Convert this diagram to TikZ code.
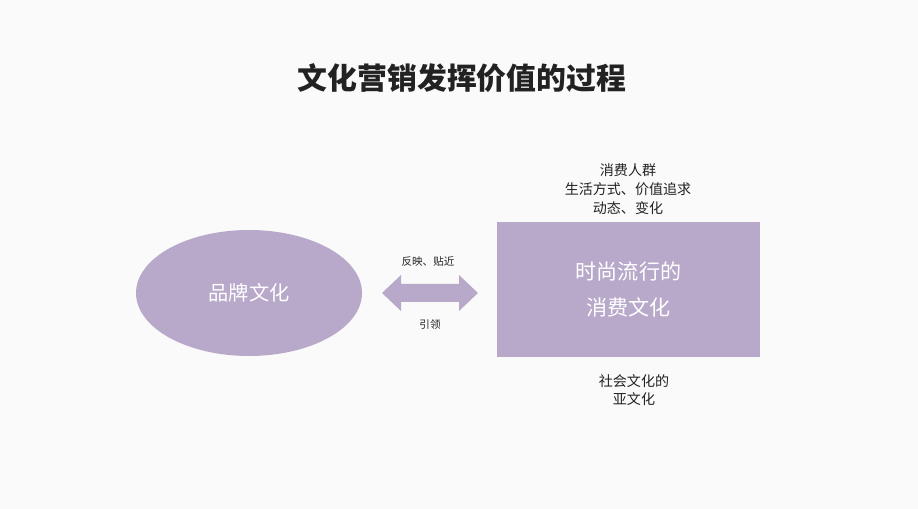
\documentclass[tikz,border=0pt]{standalone}
\usepackage{fontspec}
\usetikzlibrary{shapes.geometric}
\setmainfont{Noto Sans CJK SC}
\definecolor{fillp}{HTML}{B8A9CA}
\definecolor{bg}{HTML}{FAFAFA}
\definecolor{txt}{HTML}{222222}
\begin{document}
\begin{tikzpicture}[x=0.02cm,y=-0.02cm,
  lab/.style={text=txt,align=center,inner sep=0pt},
  shapefill/.style={fill=fillp,draw=none}]
\fill[bg] (0,0) rectangle (918,509);
\useasboundingbox (0,0) rectangle (918,509);
\node[lab,font=\bfseries\fontsize{17}{20}\selectfont] (title) at (462,78) {文化营销发挥价值的过程};
\node[shapefill,ellipse,minimum width=226*0.02cm,minimum height=126*0.02cm] (brand) at (249,293) {};
\node[text=white,font=\fontsize{11.5}{14}\selectfont] at (brand) {品牌文化};
\node[shapefill,minimum width=263*0.02cm,minimum height=135*0.02cm,inner sep=0pt] (cons) at (628.5,289.5) {};
\node[text=white,align=center,font=\fontsize{12}{20}\selectfont] at (cons) {时尚流行的\\消费文化};
\fill[fillp] (382,293) -- (401,275) -- (401,284) -- (459,284) -- (459,275) -- (478,293) -- (459,311) -- (459,302) -- (401,302) -- (401,311) -- cycle;
\coordinate (arr) at (430,293);
\node[lab,font=\fontsize{6}{8}\selectfont] (l1) at (428,262) {反映、贴近};
\node[lab,font=\fontsize{6}{8}\selectfont] (l2) at (430,325) {引领};
\node[lab,font=\fontsize{8}{11}\selectfont] (top) at (628,189) {消费人群\\生活方式、价值追求\\动态、变化};
\node[lab,font=\fontsize{8}{10.5}\selectfont] (bot) at (634,390) {社会文化的\\亚文化};
\end{tikzpicture}
\end{document}
